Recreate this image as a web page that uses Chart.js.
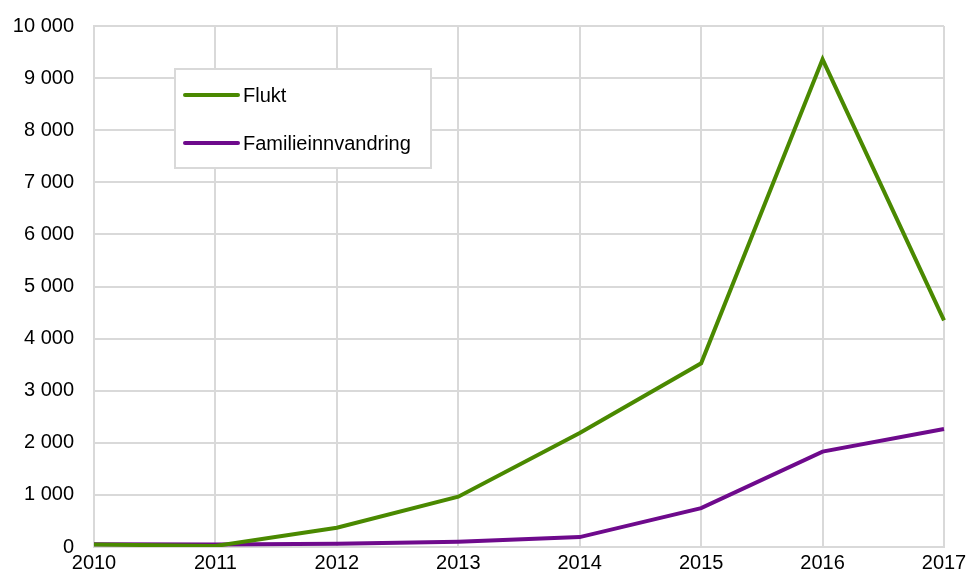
<!DOCTYPE html>
<html>
<head>
<meta charset="utf-8">
<script src="https://cdn.jsdelivr.net/npm/chart.js@4/dist/chart.umd.min.js"></script>
<style>
  html, body { margin: 0; padding: 0; background: #fff; overflow: hidden; }
  canvas { display: block; }
</style>
</head>
<body>
<canvas id="chart" width="970" height="574"></canvas>
<script>
const years = ['2010','2011','2012','2013','2014','2015','2016','2017'];
const flukt = [50, 20, 370, 965, 2190, 3525, 9360, 4350];
const familie = [55, 50, 60, 100, 190, 745, 1830, 2265];
const seriesNames = ['Flukt', 'Familieinnvandring'];
const yTicks = [0, 1000, 2000, 3000, 4000, 5000, 6000, 7000, 8000, 9000, 10000];

const green = '#4a8900';
const purple = '#6e0a8c';
const gridColor = '#d9d9d9';
const FONT = 'Liberation Sans, Arial, sans-serif';

// thousands with a space, like "10 000"
function fmt(v){
  return String(v).replace(/\B(?=(\d{3})+(?!\d))/g, ' ');
}

// legend box inside the plot, Excel style
const boxLegend = {
  id: 'boxLegend',
  afterDraw(chart){
    const c = chart.ctx;
    const x = 175, y = 69, w = 256, h = 99;
    c.save();
    c.fillStyle = '#fff';
    c.fillRect(x, y, w, h);
    c.strokeStyle = gridColor;
    c.lineWidth = 2;
    c.strokeRect(x, y, w, h);
    c.font = '20px ' + FONT;
    c.textBaseline = 'middle';
    chart.data.datasets.forEach((ds, i) => {
      const ly = 95 + i * 48;
      c.strokeStyle = ds.borderColor;
      c.lineWidth = 4;
      c.lineCap = 'round';
      c.beginPath();
      c.moveTo(185, ly);
      c.lineTo(238, ly);
      c.stroke();
      c.fillStyle = '#000';
      c.fillText(ds.label, 243, ly + 1);
    });
    c.restore();
  }
};

new Chart(document.getElementById('chart'), {
  type: 'line',
  data: {
    labels: years,
    datasets: [
      { label: seriesNames[0], data: flukt, borderColor: green, borderWidth: 4, pointRadius: 0, tension: 0 },
      { label: seriesNames[1], data: familie, borderColor: purple, borderWidth: 4, pointRadius: 0, tension: 0 }
    ]
  },
  options: {
    responsive: false,
    animation: false,
    layout: { padding: { top: 26, right: 26, left: 0, bottom: 0 } },
    plugins: { legend: { display: false }, tooltip: { enabled: false } },
    scales: {
      x: {
        offset: false,
        grid: { color: gridColor, lineWidth: 2, drawTicks: false },
        border: { color: gridColor, width: 2 },
        ticks: { color: '#000', font: { family: FONT, size: 20 }, padding: 4, maxRotation: 0, autoSkip: false },
        afterFit(scale){ scale.height = 27; scale.paddingLeft = 0; scale.paddingRight = 0; }
      },
      y: {
        min: 0, max: 10000,
        afterBuildTicks(scale){ scale.ticks = yTicks.map(v => ({ value: v })); },
        grid: { color: gridColor, lineWidth: 2, drawTicks: false },
        border: { color: gridColor, width: 2 },
        ticks: { color: '#000', font: { family: FONT, size: 20 }, padding: 20, callback: v => fmt(v) },
        afterFit(scale){ scale.width = 94; scale.paddingTop = 0; scale.paddingBottom = 0; }
      }
    }
  },
  plugins: [boxLegend]
});
</script>
</body>
</html>
